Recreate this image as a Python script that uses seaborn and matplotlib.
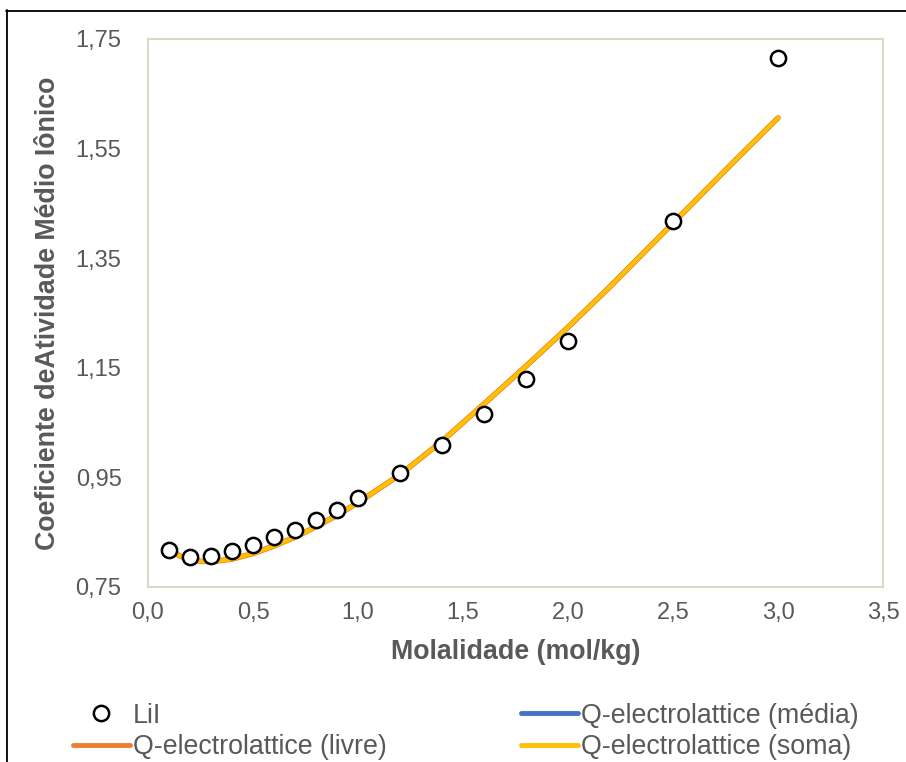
import matplotlib
matplotlib.use("Agg")
import matplotlib.pyplot as plt
from matplotlib.lines import Line2D
import seaborn as sns
import pandas as pd

# Experimental data (LiI)
exp_m = [0.1, 0.2, 0.3, 0.4, 0.5, 0.6, 0.7, 0.8, 0.9, 1.0, 1.2, 1.4, 1.6, 1.8, 2.0, 2.5, 3.0]
exp_gamma = [0.818, 0.805, 0.807, 0.816, 0.827, 0.841, 0.854, 0.872, 0.890, 0.912,
             0.958, 1.009, 1.066, 1.130, 1.199, 1.418, 1.715]

# Model curves (overlapping)
model_m = [0.1, 0.15, 0.2, 0.25, 0.3, 0.4, 0.5, 0.6, 0.7, 0.8, 0.9, 1.0, 1.2, 1.4,
           1.6, 1.8, 2.0, 2.2, 2.5, 2.8, 3.0]
gamma_media = [0.819, 0.807, 0.800, 0.797, 0.796, 0.801, 0.811, 0.825, 0.841, 0.860,
               0.881, 0.904, 0.955, 1.016, 1.084, 1.153, 1.224, 1.298, 1.414, 1.530, 1.606]
gamma_livre = list(gamma_media)
gamma_soma = list(gamma_media)

x_ticks = [0.0, 0.5, 1.0, 1.5, 2.0, 2.5, 3.0, 3.5]
y_ticks = [0.75, 0.95, 1.15, 1.35, 1.55, 1.75]

sns.set_theme(style="white")
plt.rcParams['font.family'] = ['Liberation Sans', 'DejaVu Sans']

fig = plt.figure(figsize=(9.06, 7.62), dpi=100)
ax = fig.add_axes([148/906, 1 - 587/762, (883 - 148)/906, (587 - 39)/762])

df_exp = pd.DataFrame({"m": exp_m, "g": exp_gamma})
df_mod = pd.DataFrame({"m": model_m, "media": gamma_media, "livre": gamma_livre, "soma": gamma_soma})

sns.lineplot(data=df_mod, x="m", y="media", ax=ax, color="#4472C4", lw=3.2,
             solid_capstyle="round", zorder=2)
sns.lineplot(data=df_mod, x="m", y="livre", ax=ax, color="#ED7D31", lw=4.0,
             solid_capstyle="round", zorder=3)
sns.lineplot(data=df_mod, x="m", y="soma", ax=ax, color="#FFC000", lw=3.0,
             solid_capstyle="round", zorder=4)
sns.scatterplot(data=df_exp, x="m", y="g", ax=ax, marker="o", s=120,
                facecolor="white", edgecolor="black", linewidth=1.8, zorder=5)

ax.set_xlim(0, 3.5)
ax.set_ylim(0.75, 1.75)
ax.set_xticks(x_ticks)
ax.set_yticks(y_ticks)
ax.set_xticklabels([f"{v:.1f}".replace(".", ",") for v in x_ticks])
ax.set_yticklabels([f"{v:.2f}".replace(".", ",") for v in y_ticks])
ax.tick_params(axis="both", length=0, labelsize=17, labelcolor="#595959")
ax.tick_params(axis="y", pad=19)
ax.tick_params(axis="x", pad=11)
ax.grid(False)
for s in ax.spines.values():
    s.set_color("#DCD8C4")
    s.set_linewidth(1.5)

ax.set_xlabel("Molalidade (mol/kg)", fontsize=19.3, fontweight="bold", color="#595959")
ax.set_ylabel("Coeficiente deAtividade Médio Iônico", fontsize=19.3, fontweight="bold",
              color="#595959")
ax.xaxis.set_label_coords(0.5, -(639 - 587) / 548)
ax.yaxis.set_label_coords((61 - 148) / 735, 0.5)

handles = [
    Line2D([], [], ls="none", marker="o", markersize=11, markerfacecolor="white",
           markeredgecolor="black", markeredgewidth=1.8),
    Line2D([], [], color="#ED7D31", lw=3.5),
    Line2D([], [], color="#4472C4", lw=3.5),
    Line2D([], [], color="#FFC000", lw=3.5),
]
labels = ["LiI", "Q-electrolattice (livre)", "Q-electrolattice (média)", "Q-electrolattice (soma)"]
leg = fig.legend(handles, labels, ncol=2, loc="lower left", bbox_to_anchor=(73/906, 0.002),
                 frameon=False, fontsize=19.3, labelcolor="#595959", handlelength=2.12,
                 handletextpad=0.12, columnspacing=5.0, labelspacing=0.22, borderaxespad=0,
                 borderpad=0)

# outer chart border (partially visible)
fig.add_artist(Line2D([6.5/906, 6.5/906], [0, 1 - 10/762], color="black", lw=1.3,
                      transform=fig.transFigure))
fig.add_artist(Line2D([6/906, 1], [1 - 10.5/762, 1 - 10.5/762], color="black", lw=1.3,
                      transform=fig.transFigure))

fig.savefig("out.png", dpi=100)
